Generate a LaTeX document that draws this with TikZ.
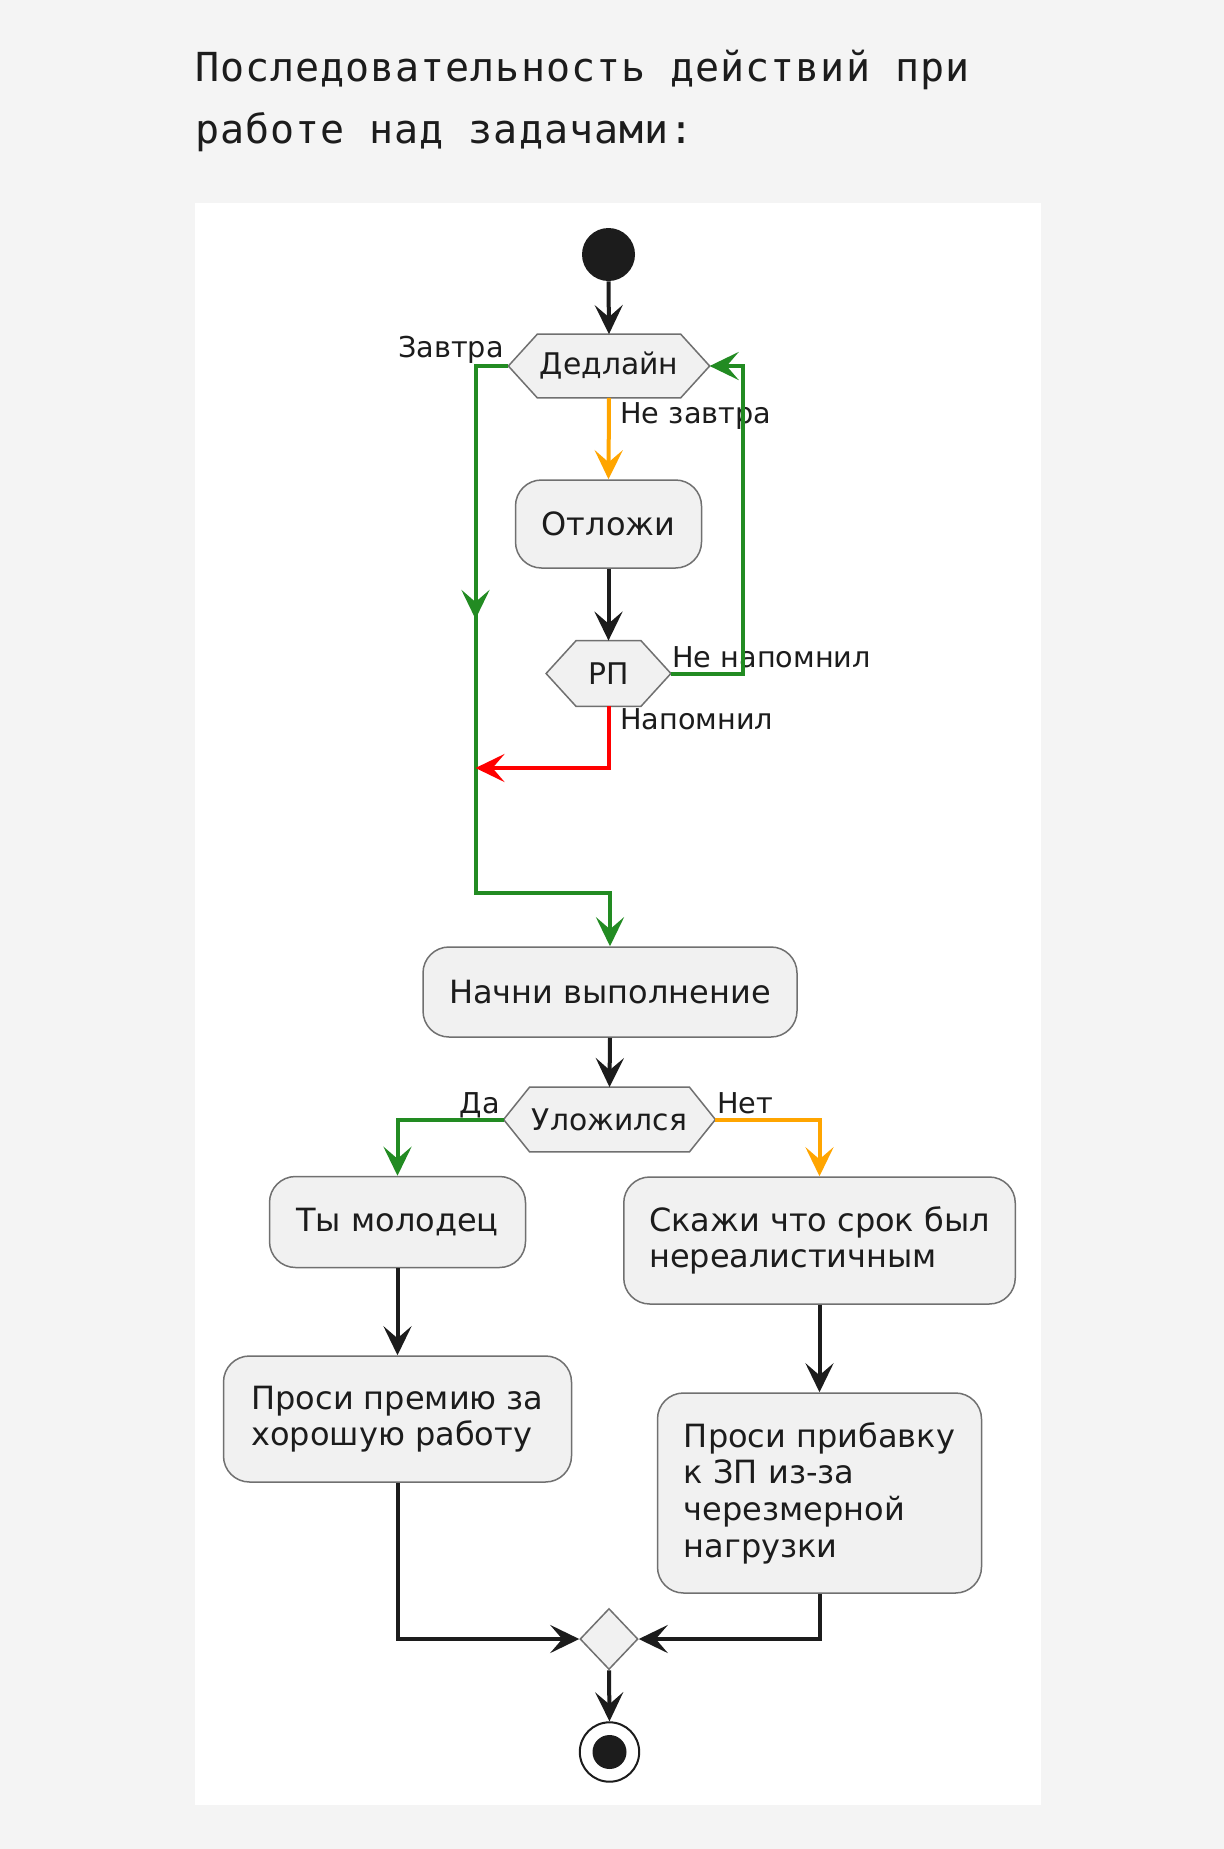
\documentclass[tikz,border=0pt]{standalone}
\usepackage{fontspec}
\setmainfont{DejaVu Sans}
\newfontfamily\titlefont{DejaVu Sans Mono}[LetterSpace=2.5]
\usetikzlibrary{arrows.meta,calc,backgrounds,shapes.geometric}
\definecolor{bg}{HTML}{F4F4F4}
\definecolor{boxfill}{HTML}{F1F1F1}
\definecolor{boxline}{HTML}{707070}
\definecolor{ink}{HTML}{1C1C1C}
\definecolor{ugreen}{HTML}{228B22}
\definecolor{uorange}{HTML}{FFA500}
\definecolor{ured}{HTML}{FF0000}
\begin{document}
\begin{tikzpicture}[x=0.5pt,y=-0.5pt,
  act/.style={draw=boxline, fill=boxfill, line width=0.75pt, rounded corners=13pt,
    inner sep=0pt, align=left, font=\fontsize{16}{18.3}\selectfont, text=ink},
  hexnode/.style={inner sep=0pt, font=\fontsize{14.9}{17}\selectfont, text=ink},
  hexpath/.style={draw=boxline, fill=boxfill, line width=0.75pt},
  lbl/.style={inner sep=0pt, font=\fontsize{14.35}{17}\selectfont, text=ink},
  flow/.style={line width=2pt, -{Stealth[length=14.5pt,width=14pt,inset=6pt]}},
  ttl/.style={anchor=base west, inner sep=0pt, font=\titlefont\fontsize{20}{24}\selectfont, text=ink}
]
\useasboundingbox (0,0) rectangle (1224,1849);
\begin{scope}[on background layer]
  \fill[bg] (0,0) rectangle (1224,1849);
  \fill[white] (194.6,202.8) rectangle (1041.2,1805);
\end{scope}

% title
\node[ttl] (t1) at (194.6,81) {Последовательность действий при};
\node[ttl] (t2) at (194.6,143) {работе над задачами:};

% start
\node[circle, fill=ink, minimum size=26.5pt, inner sep=0pt] (start) at (608.5,254.5) {};

% decisions
\node[hexnode, minimum width=100.25pt, minimum height=31.5pt] (ded) at (609,366) {Дедлайн};
\node[hexnode, minimum width=62pt, minimum height=32.5pt] (rp) at (608.5,673.5) {РП};
\node[hexnode, minimum width=105.5pt, minimum height=32pt] (ulo) at (609.5,1119.5) {Уложился};

\begin{scope}[on background layer]
  \path[hexpath] (ded.west) -- ($(ded.north west)+(29,0)$) -- ($(ded.north east)+(-29,0)$)
    -- (ded.east) -- ($(ded.south east)+(-29,0)$) -- ($(ded.south west)+(29,0)$) -- cycle;
  \path[hexpath] (rp.west) -- ($(rp.north west)+(30,0)$) -- ($(rp.north east)+(-30,0)$)
    -- (rp.east) -- ($(rp.south east)+(-30,0)$) -- ($(rp.south west)+(30,0)$) -- cycle;
  \path[hexpath] (ulo.west) -- ($(ulo.north west)+(26,0)$) -- ($(ulo.north east)+(-26,0)$)
    -- (ulo.east) -- ($(ulo.south east)+(-26,0)$) -- ($(ulo.south west)+(26,0)$) -- cycle;
\end{scope}

% activities
\node[act, minimum width=93pt, minimum height=44pt] (otl) at (608.5,524) {Отложи};
\node[act, minimum width=187pt, minimum height=45pt] (nachni) at (610,992) {Начни выполнение};
\node[act, minimum width=128pt, minimum height=45.5pt] (ty) at (397.5,1222) {Ты молодец};
\node[act, minimum width=195.75pt, minimum height=63.5pt] (skazhi) at (819.5,1240.5) {Скажи что срок был\\нереалистичным};
\node[act, minimum width=174pt, minimum height=63pt] (premiya) at (397.5,1419) {Проси премию за\\хорошую работу};
\node[act, minimum width=162pt, minimum height=100pt] (pribavku) at (819.5,1493) {Проси прибавку\\к ЗП из-за\\черезмерной\\нагрузки};

% merge and end
\node[diamond, draw=boxline, fill=boxfill, line width=0.75pt, minimum width=29pt, minimum height=30.5pt, inner sep=0pt] (merge) at (609,1639) {};
\node[circle, draw=ink, line width=1pt, fill=white, minimum size=29.7pt, inner sep=0pt] (fin) at (609.5,1752) {};
\node[circle, fill=ink, minimum size=17pt, inner sep=0pt] (finin) at (fin) {};

% labels
\node[lbl, anchor=base east] (lz) at (504,357) {Завтра};
\node[lbl, anchor=base west] (lnz) at (620,423) {Не завтра};
\node[lbl, anchor=base west] (lnn) at (672,667) {Не напомнил};
\node[lbl, anchor=base west] (ln) at (620,729) {Напомнил};
\node[lbl, anchor=base east] (lda) at (500,1113) {Да};
\node[lbl, anchor=base west] (lnet) at (717,1113) {Нет};

% helper coordinates
\coordinate (loopR) at (743,673.5);
\coordinate (lmid) at (475.5,619);
\coordinate (lmidup) at (475.5,560);
\coordinate (lbot) at (475.5,893);
\coordinate (redend) at (475.5,768);

% connectors
\draw[flow, ink] (start.south) -- (ded.north);
\draw[flow, uorange] (ded.south) -- (otl.north);
\draw[flow, ink] (otl.south) -- (rp.north);
\draw[flow, ugreen] (rp.east) -- (loopR) |- (ded.east);
\draw[flow, ugreen] (ded.west) -| (lbot) -| (nachni.north);
\draw[flow, ugreen] (lmidup) -- (lmid);
\draw[flow, ured] (rp.south) |- (redend);
\draw[flow, ink] (nachni.south) -- (ulo.north);
\draw[flow, ugreen] (ulo.west) -| (ty.north);
\draw[flow, uorange] (ulo.east) -| (skazhi.north);
\draw[flow, ink] (ty.south) -- (premiya.north);
\draw[flow, ink] (skazhi.south) -- (pribavku.north);
\draw[flow, ink] (premiya.south) |- (merge.west);
\draw[flow, ink] (pribavku.south) |- (merge.east);
\draw[flow, ink] (merge.south) -- (fin.north);
\end{tikzpicture}
\end{document}
